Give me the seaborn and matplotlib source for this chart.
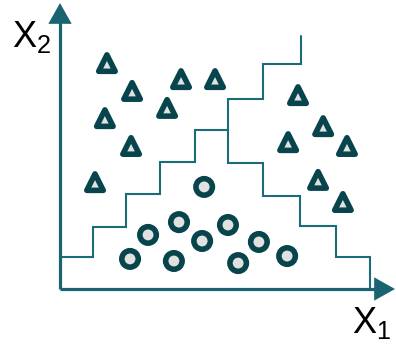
import matplotlib
matplotlib.use("Agg")
import matplotlib.pyplot as plt
import seaborn as sns
import pandas as pd

# ---- data (feature space units) ----
tri_x1 = [1.38, 2.12, 3.56, 4.56, 1.32, 3.15, 2.09, 1.03, 7.00, 7.74, 6.71, 8.44, 7.59, 8.32]
tri_x2 = [7.06, 6.19, 6.56, 6.56, 5.34, 5.66, 4.47, 3.34, 6.06, 5.09, 4.59, 4.47, 3.41, 2.72]
circ_x1 = [4.24, 2.06, 2.59, 3.50, 3.35, 4.18, 4.94, 5.24, 5.85, 6.68]
circ_x2 = [3.19, 0.94, 1.69, 2.09, 0.875, 1.50, 2.00, 0.81, 1.47, 1.03]

# staircase decision boundaries
left_x = [0, 0.97, 0.97, 1.94, 1.94, 2.94, 2.94, 3.97, 3.97, 4.94, 4.94, 5.97, 5.97, 7.09, 7.09]
left_y = [1.0, 1.0, 1.94, 1.94, 2.97, 2.97, 3.97, 3.97, 4.97, 4.97, 5.94, 5.94, 7.03, 7.03, 7.9]
right_x = [4.94, 4.94, 5.97, 5.97, 7.06, 7.06, 8.12, 8.12, 9.12, 9.12]
right_y = [4.97, 3.94, 3.94, 2.9, 2.9, 1.97, 1.97, 1.0, 1.0, 0.0]

axis_labels = ["X_1", "X_2"]

df = pd.DataFrame({
    "x1": tri_x1 + circ_x1,
    "x2": tri_x2 + circ_x2,
    "cls": ["tri"] * len(tri_x1) + ["circ"] * len(circ_x1),
})

AXIS_C = "#1a6472"
STAIR_C = "#1b6b78"
MARK_C = "#07444c"
FILL_C = "#e1e1e1"

sns.set_style("white")
plt.rcParams["mathtext.fontset"] = "custom"
plt.rcParams["mathtext.rm"] = "Liberation Sans"
plt.rcParams["font.family"] = ["Liberation Sans", "DejaVu Sans"]

fig = plt.figure(figsize=(3.96, 3.46), dpi=100)
ax = fig.add_axes([0, 0, 1, 1])
ax.set_xlim(-60 / 34, 336 / 34)
ax.set_ylim(-57 / 32, 289 / 32)
ax.axis("off")

# stairs
ax.plot(left_x, left_y, color=STAIR_C, lw=1.5, solid_joinstyle="miter")
ax.plot(right_x, right_y, color=STAIR_C, lw=1.5, solid_joinstyle="miter")

# axes with arrows
ax.plot([0, 9.5], [0, 0], color=AXIS_C, lw=2.3, solid_capstyle="butt")
ax.plot([0, 0], [0, 8.6], color=AXIS_C, lw=2.3, solid_capstyle="butt")
ax.annotate("", xy=(335 / 34, 0), xytext=(9.0, 0),
            arrowprops=dict(arrowstyle="-|>,head_length=0.75,head_width=0.42",
                            mutation_scale=20, color=AXIS_C, lw=0, shrinkA=0, shrinkB=0))
ax.annotate("", xy=(0, 286 / 32), xytext=(0, 8.0),
            arrowprops=dict(arrowstyle="-|>,head_length=0.75,head_width=0.42",
                            mutation_scale=20, color=AXIS_C, lw=0, shrinkA=0, shrinkB=0))

# points
sns.scatterplot(data=df, x="x1", y="x2", style="cls",
                markers={"tri": "^", "circ": "o"}, s=141,
                color=FILL_C, edgecolor=MARK_C, linewidth=4.0,
                legend=False, ax=ax, zorder=5)
for c in ax.collections:
    c.set_joinstyle("round")

# labels
ax.text(-48 / 34, 242 / 32, r"$\mathregular{%s}$" % axis_labels[1], fontsize=26,
        ha="left", va="baseline", color="black")
ax.text(292 / 34, -44 / 32, r"$\mathregular{%s}$" % axis_labels[0], fontsize=26,
        ha="left", va="baseline", color="black")

fig.savefig("out.png", dpi=100)
